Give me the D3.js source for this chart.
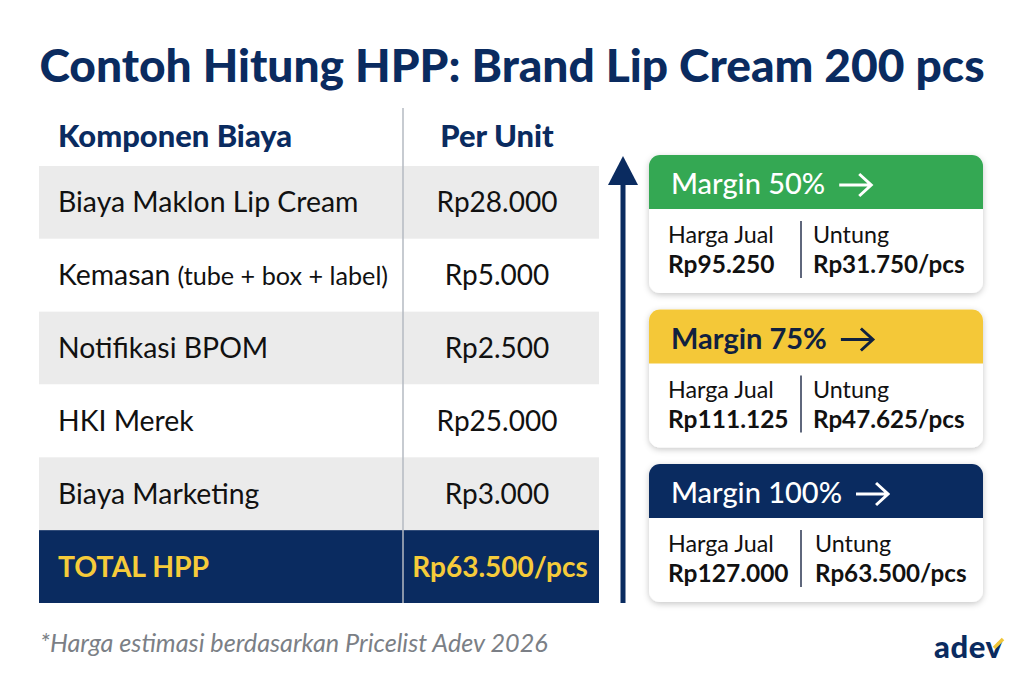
<!DOCTYPE html>
<html>
<head>
<meta charset="utf-8">
<script src="https://cdn.jsdelivr.net/npm/d3@7"></script>
<style>
html,body{margin:0;padding:0;background:#fff}
text{font-family:Lato,"Open Sans",sans-serif}
</style>
</head>
<body>
<svg id="chart" width="1024" height="687"></svg>
<script>
const titleText="Contoh Hitung HPP: Brand Lip Cream 200 pcs";
const footnote="*Harga estimasi berdasarkan Pricelist Adev 2026";
const headers=["Komponen Biaya","Per Unit"];
const components=["Biaya Maklon Lip Cream","Kemasan","Notifikasi BPOM","HKI Merek","Biaya Marketing"];
const componentNotes=["","(tube + box + label)","","",""];
const unitCosts=[28000,5000,2500,25000,3000];
const totalLabel="TOTAL HPP";
const totalCost=63500;
const margins=[50,75,100];
const prices=[95250,111125,127000];
const profits=[31750,47625,63500];
const marginColors=["#34a853","#f4c838","#0a2b60"];

const navy="#0a2b60",yellow="#f6cb3a",ink="#111";
const rp=v=>"Rp"+d3.format(",")(v).replace(/,/g,".");
const svg=d3.select("#chart");

const defs=svg.append("defs");
const shadow=defs.append("filter").attr("id","sh").attr("x","-10%").attr("y","-10%").attr("width","120%").attr("height","125%");
shadow.append("feDropShadow").attr("dx",0).attr("dy",2).attr("stdDeviation",3).attr("flood-color","#000").attr("flood-opacity",0.22);

svg.append("text").attr("x",512).attr("y",82).attr("text-anchor","middle")
  .attr("font-size",46.1).attr("font-weight",900).attr("fill",navy).text(titleText);

// table
const rowKeys=d3.range(components.length+1);
const y=d3.scaleBand().domain(rowKeys).range([166,603]);
const colL=39,colM=403,colR=599;

svg.append("text").attr("x",58).attr("y",147).attr("font-size",30.9).attr("font-weight",900).attr("fill",navy).text(headers[0]);
svg.append("text").attr("x",497).attr("y",147).attr("text-anchor","middle").attr("font-size",30.9).attr("font-weight",900).attr("fill",navy).text(headers[1]);

svg.selectAll("rect.row").data(rowKeys).join("rect").attr("class","row")
  .attr("x",colL).attr("width",colR-colL)
  .attr("y",d=>y(d)).attr("height",y.bandwidth())
  .attr("fill",d=>d===components.length?navy:(d%2===0?"#ebebeb":"#fff"));

svg.append("line").attr("x1",colM).attr("x2",colM).attr("y1",108).attr("y2",603).attr("stroke","#b5bac2").attr("stroke-width",1.5);

components.forEach((c,i)=>{
  const t=svg.append("text").attr("x",58).attr("y",y(i)+y.bandwidth()/2+10).attr("font-size",28.4).attr("fill",ink);
  t.append("tspan").text(c);
  if(componentNotes[i]) t.append("tspan").attr("font-size",25.2).attr("dx",7).text(componentNotes[i]);
  svg.append("text").attr("x",497).attr("y",y(i)+y.bandwidth()/2+10).attr("text-anchor","middle").attr("font-size",28).attr("fill",ink).text(rp(unitCosts[i]));
});
const ty=y(components.length)+y.bandwidth()/2+10;
svg.append("text").attr("x",58).attr("y",ty).attr("font-size",28.4).attr("font-weight",700).attr("fill",yellow).text(totalLabel);
svg.append("text").attr("x",500).attr("y",ty).attr("text-anchor","middle").attr("font-size",28).attr("font-weight",700).attr("fill",yellow).text(rp(totalCost)+"/pcs");

// arrow
svg.append("line").attr("x1",623).attr("x2",623).attr("y1",180).attr("y2",603).attr("stroke",navy).attr("stroke-width",5);
svg.append("path").attr("d",d3.line()([[608,185],[623,156],[638,185]])+"Z").attr("fill",navy);

// margin cards
const cardY=d3.scaleBand().domain(margins).range([155,618.5]);
const cardH=138,headH=54,cardX=649,cardW=334;
margins.forEach((m,i)=>{
  const top=cardY(m);
  const g=svg.append("g").attr("transform",`translate(${cardX},${top})`);
  g.append("rect").attr("width",cardW).attr("height",cardH).attr("rx",11).attr("fill","#fff").attr("filter","url(#sh)");
  g.append("path").attr("d",`M0,${headH}V11A11,11 0 0 1 11,0H${cardW-11}A11,11 0 0 1 ${cardW},11V${headH}Z`).attr("fill",marginColors[i]);
  const hc=i===1?"#10213f":"#fff";
  const label=g.append("text").attr("x",22).attr("y",39).attr("font-size",29).attr("font-weight",i===1?700:500).attr("fill",hc).text(`Margin ${m}%`);
  const ax=label.node().getComputedTextLength()+22+14;
  g.append("path").attr("d",`M${ax},30H${ax+31}M${ax+20},19L${ax+32},30L${ax+20},41`).attr("fill","none").attr("stroke",hc).attr("stroke-width",3);
  const untungX=i===2?166:164;
  g.append("line").attr("x1",152).attr("x2",152).attr("y1",66).attr("y2",123).attr("stroke","#2a3550").attr("stroke-width",1.5);
  g.append("text").attr("x",19).attr("y",88).attr("font-size",23.3).attr("fill",ink).text("Harga Jual");
  g.append("text").attr("x",19).attr("y",118).attr("font-size",24.5).attr("font-weight",700).attr("fill",ink).text(rp(prices[i]));
  g.append("text").attr("x",untungX).attr("y",88).attr("font-size",23.3).attr("fill",ink).text("Untung");
  g.append("text").attr("x",untungX).attr("y",118).attr("font-size",24.2).attr("font-weight",700).attr("fill",ink).text(rp(profits[i])+"/pcs");
});

svg.append("text").attr("x",40).attr("y",652).attr("font-size",25.2).attr("font-style","italic").attr("fill","#7b7f86").text(footnote);

// logo
const logo=svg.append("text").attr("x",934).attr("y",658).attr("font-size",31).attr("font-weight",900).attr("letter-spacing",0.6).attr("fill",navy);
logo.append("tspan").text("adev");
svg.append("line").attr("x1",994).attr("x2",1003).attr("y1",648).attr("y2",639).attr("stroke","#f0c63a").attr("stroke-width",3.5);
</script>
</body>
</html>
